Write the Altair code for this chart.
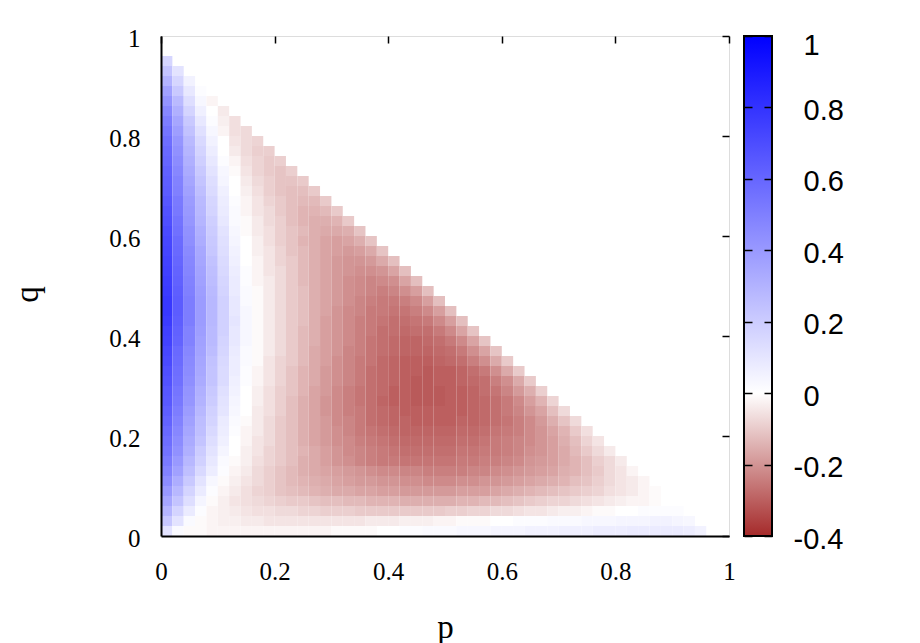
import altair as alt
import pandas as pd

# ---- values, in hundredths; one list per q-row ----
# row rNN is centred on q = 0.NN, cell step 0.02 in p and q
STEP = 0.02
r01 = [11, 2, -1, -1, -2, -2, -2, -2, -2, -2, -2, -2, -2, -2, -2, -1, -1, -1, -1, 0, 0, 1, 1, 2,
       2, 2, 3, 3, 3, 4, 4, 4, 5, 5, 5, 6, 6, 6, 7, 7, 7, 8, 8, 8, 8, 8, 7, 5]
r03 = [22, 11, 2, -1, -2, -3, -3, -4, -4, -5, -5, -5, -5, -5, -5, -5, -5, -5, -4, -4, -4, -3, -3,
       -3, -2, -2, -1, -1, -1, 0, 0, 1, 1, 1, 2, 2, 2, 3, 3, 3, 4, 4, 4, 5, 5, 4, 3]
r05 = [29, 17, 8, 1, -2, -3, -4, -5, -6, -6, -7, -7, -8, -8, -9, -9, -9, -10, -10, -10, -10, -10,
       -10, -10, -10, -9, -9, -8, -8, -7, -7, -6, -5, -5, -4, -3, -3, -2, -1, -1, 0, 0, 1, 1, 1, 1]
r07 = [35, 23, 13, 4, -1, -3, -5, -6, -7, -8, -9, -10, -10, -11, -12, -12, -13, -13, -14, -14, -14,
       -15, -15, -15, -15, -15, -14, -14, -13, -13, -12, -11, -10, -9, -8, -8, -7, -6, -5, -4, -3,
       -2, -2, -1, 0]
r09 = [40, 28, 17, 8, 1, -2, -4, -6, -8, -9, -11, -12, -13, -14, -15, -16, -16, -17, -17, -18, -18,
       -19, -19, -19, -19, -19, -18, -18, -18, -17, -16, -15, -14, -13, -12, -11, -10, -9, -8, -6,
       -5, -4, -2, -1]
r11 = [45, 32, 21, 11, 3, -1, -3, -5, -7, -9, -11, -13, -14, -15, -16, -17, -18, -19, -19, -20, -20,
       -21, -21, -22, -22, -22, -21, -21, -20, -20, -19, -18, -17, -16, -15, -14, -12, -11, -9, -7,
       -5, -4, -2]
r13 = [49, 37, 25, 15, 7, 1, -2, -4, -7, -9, -11, -13, -15, -16, -17, -18, -19, -20, -21, -22, -22,
       -23, -23, -24, -24, -24, -24, -23, -23, -22, -21, -20, -19, -18, -17, -15, -14, -12, -10, -7,
       -5, -2]
r15 = [52, 40, 28, 18, 9, 2, -1, -3, -6, -8, -10, -12, -15, -16, -18, -20, -21, -23, -24, -25, -25,
       -26, -26, -26, -26, -26, -25, -25, -24, -24, -23, -22, -20, -19, -18, -16, -14, -12, -9, -7, -4]
r17 = [55, 43, 31, 20, 11, 4, 0, -3, -5, -8, -10, -12, -14, -16, -18, -20, -22, -23, -24, -25, -26,
       -27, -27, -27, -27, -27, -26, -26, -25, -25, -24, -23, -21, -20, -18, -16, -13, -10, -7, -4]
r19 = [57, 45, 33, 23, 13, 6, 0, -2, -5, -7, -10, -12, -15, -17, -19, -21, -22, -24, -25, -26, -27,
       -28, -28, -28, -28, -28, -27, -27, -26, -25, -24, -23, -22, -20, -18, -15, -12, -8, -5]
r21 = [59, 47, 35, 25, 15, 7, 1, -2, -4, -7, -10, -12, -15, -17, -19, -21, -23, -25, -26, -27, -28,
       -29, -29, -29, -29, -29, -28, -28, -27, -26, -25, -24, -22, -20, -17, -14, -10, -6]
r23 = [61, 49, 37, 26, 17, 8, 2, -1, -4, -7, -10, -12, -15, -17, -19, -22, -23, -25, -27, -28, -29,
       -29, -30, -30, -30, -30, -29, -29, -28, -27, -26, -24, -22, -19, -15, -11, -7]
r25 = [63, 51, 39, 28, 18, 10, 3, 0, -4, -6, -9, -12, -15, -17, -20, -22, -24, -25, -27, -28, -29,
       -30, -30, -30, -30, -30, -30, -29, -28, -27, -25, -23, -20, -17, -12, -7]
r27 = [65, 53, 41, 30, 20, 11, 4, 0, -3, -6, -9, -12, -15, -17, -20, -22, -24, -26, -27, -29, -30,
       -30, -31, -31, -31, -30, -30, -29, -28, -27, -25, -22, -18, -14, -8]
r29 = [66, 54, 42, 31, 21, 12, 5, 0, -3, -6, -9, -11, -14, -17, -19, -22, -24, -26, -27, -28, -30,
       -30, -31, -31, -31, -30, -30, -29, -27, -26, -23, -19, -15, -9]
r31 = [68, 56, 44, 33, 23, 14, 6, 1, -2, -5, -8, -11, -14, -16, -19, -21, -23, -25, -27, -28, -29,
       -30, -31, -31, -30, -30, -29, -28, -27, -24, -21, -16, -10]
r33 = [69, 57, 45, 34, 23, 14, 7, 1, -2, -5, -8, -11, -14, -16, -19, -21, -23, -25, -27, -28, -29,
       -30, -30, -31, -30, -30, -29, -27, -25, -21, -16, -10]
r35 = [71, 58, 46, 35, 24, 15, 7, 2, -1, -5, -8, -10, -13, -16, -18, -21, -23, -25, -26, -28, -29,
       -30, -30, -30, -29, -28, -27, -24, -21, -16, -10]
r37 = [72, 59, 47, 36, 26, 16, 8, 2, -1, -4, -7, -10, -13, -16, -18, -20, -23, -24, -26, -27, -28,
       -29, -29, -29, -28, -27, -25, -21, -17, -11]
r39 = [74, 61, 49, 37, 27, 17, 9, 3, -1, -4, -7, -10, -13, -15, -18, -20, -22, -24, -26, -27, -28,
       -29, -29, -28, -27, -25, -22, -17, -11]
r41 = [75, 62, 49, 38, 27, 18, 9, 3, -1, -4, -7, -10, -13, -15, -18, -20, -22, -24, -25, -27, -27,
       -28, -27, -27, -25, -22, -17, -11]
r43 = [77, 63, 51, 39, 28, 18, 10, 3, -1, -4, -7, -10, -12, -15, -18, -20, -22, -24, -25, -26, -27,
       -27, -26, -25, -22, -18, -12]
r45 = [78, 64, 51, 39, 28, 18, 9, 3, -1, -4, -7, -10, -12, -15, -17, -20, -22, -23, -25, -25, -26,
       -26, -24, -22, -18, -12]
r47 = [78, 64, 51, 39, 28, 18, 9, 2, -1, -4, -7, -10, -12, -15, -17, -19, -21, -23, -24, -25, -25,
       -24, -22, -18, -12]
r49 = [77, 63, 50, 38, 27, 17, 8, 2, -1, -4, -7, -10, -12, -15, -17, -19, -21, -22, -23, -24, -23,
       -21, -18, -12]
r51 = [76, 62, 49, 37, 26, 16, 8, 1, -2, -4, -7, -10, -13, -15, -17, -19, -21, -22, -23, -22, -21,
       -17, -12]
r53 = [75, 61, 48, 36, 25, 15, 7, 1, -2, -5, -7, -10, -13, -15, -17, -19, -20, -21, -21, -20, -17,
       -12]
r55 = [74, 60, 47, 35, 24, 14, 6, 0, -2, -5, -8, -10, -13, -15, -17, -19, -20, -20, -19, -16, -12]
r57 = [73, 59, 46, 34, 22, 13, 5, 0, -3, -5, -8, -11, -13, -15, -17, -18, -19, -18, -16, -11]
r59 = [72, 58, 44, 32, 21, 12, 4, 0, -3, -6, -9, -11, -14, -15, -17, -18, -17, -15, -11]
r61 = [71, 56, 43, 31, 20, 11, 3, -1, -4, -6, -9, -11, -13, -15, -16, -16, -15, -11]
r63 = [69, 55, 41, 29, 19, 9, 2, -1, -4, -7, -9, -12, -14, -15, -15, -14, -10]
r65 = [68, 53, 40, 28, 17, 8, 2, -2, -5, -7, -10, -12, -14, -14, -13, -10]
r67 = [66, 52, 39, 27, 16, 7, 1, -2, -5, -8, -10, -12, -13, -13, -10]
r69 = [64, 50, 37, 25, 14, 6, 0, -3, -6, -9, -11, -12, -12, -10]
r71 = [63, 49, 35, 23, 13, 4, 0, -4, -7, -9, -11, -11, -10]
r73 = [62, 47, 33, 21, 11, 3, -1, -5, -8, -10, -11, -9]
r75 = [60, 45, 31, 19, 9, 1, -2, -6, -8, -10, -9]
r77 = [59, 43, 29, 17, 7, 0, -4, -7, -9, -9]
r79 = [57, 41, 27, 15, 5, 0, -5, -7, -8]
r81 = [54, 38, 24, 12, 3, -2, -6, -7]
r83 = [51, 35, 21, 9, 1, -3, -6]
r85 = [47, 31, 17, 6, 0, -4]
r87 = [42, 27, 13, 3, -2]
r89 = [37, 21, 9, 1]
r91 = [30, 16, 5]
r93 = [23, 11]
r95 = [16]

rows = [r01, r03, r05, r07, r09, r11, r13, r15, r17, r19, r21, r23, r25, r27, r29, r31,
        r33, r35, r37, r39, r41, r43, r45, r47, r49, r51, r53, r55, r57, r59, r61, r63,
        r65, r67, r69, r71, r73, r75, r77, r79, r81, r83, r85, r87, r89, r91, r93, r95]

axis_ticks = [0, 0.2, 0.4, 0.6, 0.8, 1]
cb_ticks = [-0.4, -0.2, 0, 0.2, 0.4, 0.6, 0.8, 1]
cb_domain = [-0.4, 1]

records = []
for j, row in enumerate(rows):
    for i, v in enumerate(row):
        records.append({"p0": round(i * STEP, 4), "p1": round((i + 1) * STEP, 4),
                        "q0": round(j * STEP, 4), "q1": round((j + 1) * STEP, 4),
                        "v": v / 100.0})
df = pd.DataFrame(records)

BROWN, WHITE, BLUE = "#a52a2a", "#ffffff", "#0000ff"
color_scale = alt.Scale(domain=[-0.4, 0, 1], range=[BROWN, WHITE, BLUE],
                        interpolate="rgb", clamp=True)

xs = alt.Scale(domain=[0, 1], nice=False, zero=False)
ys = alt.Scale(domain=[0, 1], nice=False, zero=False)

SERIF = "Liberation Serif"
SANS = "Liberation Sans"

ax_bottom = alt.Axis(orient="bottom", values=axis_ticks, tickSize=0, domain=True,
                     domainColor="black", domainWidth=2, grid=False, zindex=1,
                     labelPadding=23, labelFont=SERIF, labelFontSize=25,
                     labelColor="black", labelExpr="toString(datum.value)",
                     labelFlush=False, labelOverlap=False,
                     title="p", titleFont=SERIF, titleFontSize=33,
                     titleFontWeight="normal", titleColor="black",
                     titleX=284, titleY=101, titleBaseline="alphabetic")
ax_left = alt.Axis(orient="left", values=axis_ticks, tickSize=0, domain=True,
                   domainColor="black", domainWidth=2, grid=False, zindex=1,
                   labelPadding=21, labelFont=SERIF, labelFontSize=25,
                   labelColor="black", labelExpr="toString(datum.value)",
                   labelOffset=2, labelFlush=False, labelOverlap=False,
                   title="q", titleFont=SERIF, titleFontSize=33,
                   titleFontWeight="normal", titleColor="black", titleAngle=270,
                   titleX=-124, titleY=258, titleBaseline="alphabetic",
                   titleAlign="center")
ax_top = alt.Axis(orient="top", values=axis_ticks, tickSize=7, offset=-7,
                  domain=False, grid=False, labels=False, title=None,
                  tickColor="black", tickWidth=1.5)
ax_right = alt.Axis(orient="right", values=axis_ticks, tickSize=7, offset=-7,
                    domain=False, grid=False, labels=False, title=None,
                    tickColor="black", tickWidth=1.5)

heat = alt.Chart(df).mark_rect().encode(
    x=alt.X("p0:Q", scale=xs, axis=ax_bottom),
    x2="p1",
    y=alt.Y("q0:Q", scale=ys, axis=ax_left),
    y2="q1",
    color=alt.Color("v:Q", scale=color_scale, legend=None),
)
mirror = alt.Chart(pd.DataFrame({"t": axis_ticks})).mark_point(opacity=0).encode(
    x=alt.X("t:Q", scale=xs, axis=ax_top),
    y=alt.Y("t:Q", scale=ys, axis=ax_right),
)
main = alt.layer(heat, mirror).resolve_axis(x="independent", y="independent").properties(
    width=568, height=500)

# ---- colour box ----
grad = alt.LinearGradient(
    gradient="linear", x1=0, x2=0, y1=0, y2=1,
    stops=[alt.GradientStop(offset=0, color=BLUE),
           alt.GradientStop(offset=1 / 1.4, color=WHITE),
           alt.GradientStop(offset=1, color=BROWN)])
cbs = alt.Scale(domain=cb_domain, nice=False, zero=False)
cbx = alt.Scale(domain=[0, 1], nice=False, zero=False)
cb_left = alt.Axis(orient="left", values=cb_ticks, tickSize=8, offset=-8, domain=False,
                   grid=False, labels=False, title=None, tickColor="black",
                   tickWidth=1.5, zindex=1)
cb_right = alt.Axis(orient="right", values=cb_ticks, tickSize=8, offset=-8, domain=False,
                    grid=False, title=None, tickColor="black", tickWidth=1.5, zindex=1,
                    labelPadding={"condition": {"test": "datum.value < 0", "value": 21},
                                  "value": 31},
                    labelFont=SANS, labelFontSize=29, labelColor="black",
                    labelAlign="left", labelBaseline="middle",
                    labelOffset={"condition": {"test": "datum.value == 1", "value": 9},
                                 "value": 3},
                    labelFlush=False, labelOverlap=False,
                    labelExpr="toString(datum.value)")
cb_df = pd.DataFrame({"lo": [cb_domain[0]], "hi": [cb_domain[1]], "a": [0.0], "b": [1.0]})
cb_bar = alt.Chart(cb_df).mark_rect(color=grad, stroke="black", strokeWidth=2).encode(
    x=alt.X("a:Q", scale=cbx, axis=None), x2="b",
    y=alt.Y("lo:Q", scale=cbs, axis=cb_left), y2="hi")
cb_ax = alt.Chart(pd.DataFrame({"t": cb_ticks, "c": [0.5] * len(cb_ticks)})).mark_point(
    opacity=0).encode(
    x=alt.X("c:Q", scale=cbx, axis=None),
    y=alt.Y("t:Q", scale=cbs, axis=cb_right))
cbar = alt.layer(cb_bar, cb_ax).resolve_axis(y="independent").properties(width=28, height=500)

chart = alt.hconcat(main, cbar, spacing=15, bounds="flush",
                    padding={"left": 2, "top": 17, "right": 5, "bottom": 5}).configure_view(
    stroke="black", strokeWidth=2).configure(background="white")

chart.save("out.html", embed_options={"renderer": "svg", "actions": False})
